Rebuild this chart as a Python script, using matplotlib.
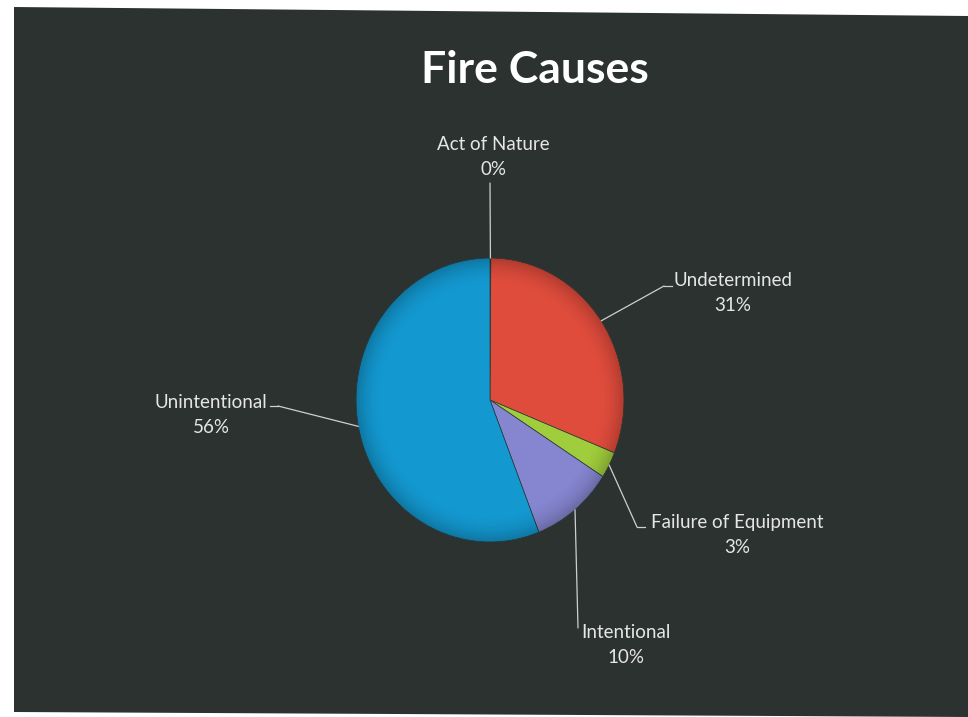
import numpy as np
import matplotlib.pyplot as plt
from matplotlib.patches import Polygon, Circle

# dados
causas = ["Act of Nature", "Undetermined", "Failure of Equipment",
          "Intentional", "Unintentional"]
percentuais = [0.1, 31, 3, 10, 56]
rotulos_pct = ["0%", "31%", "3%", "10%", "56%"]
cores = ["#3a3f3c", "#e04c3c", "#a0cd3c", "#8585d0", "#1398d0"]

W, H = 968, 717
FUNDO = "#2c3230"
TXT = "#e6e6e6"

# posicao do texto (pixels, y de cima p/ baixo) e cotovelo da linha guia
pos_txt = [(493, 157), (733, 293), (737, 535), (626, 645), (211, 415)]
cotovelo = [(490, 183, 490), (664, 286, 672), (637, 527, 645),
            (578, 628, 578), (278, 406, 270)]

fig = plt.figure(figsize=(W / 100, H / 100), dpi=100, facecolor="white")

# fundo escuro do slide escaneado (levemente torto)
fundo = Polygon([(14 / W, 1 - 7 / H), (1, 1 - 16 / H), (1, 0), (14 / W, 1 - 712 / H)],
                closed=True, transform=fig.transFigure, facecolor=FUNDO,
                edgecolor="none", zorder=-5)
fig.patches.append(fundo)

# eixo da pizza: centro (490,400), raios 134 x 142 px
cx, cy, rx, ry = 490, 400, 134, 142
ax = fig.add_axes([(cx - rx) / W, 1 - (cy + ry) / H, 2 * rx / W, 2 * ry / H])
ax.set_zorder(2)
wedges, _ = ax.pie(percentuais, colors=cores, startangle=90, counterclock=False,
                   radius=1, wedgeprops=dict(linewidth=0.5, edgecolor="#2a3a36"))
ax.set_aspect("auto")
ax.set_xlim(-1, 1)
ax.set_ylim(-1, 1)
ax.patch.set_alpha(0)

# sombreado leve de borda (efeito bisel do Excel)
g = np.linspace(-1, 1, 300)
xx, yy = np.meshgrid(g, g)
rr = np.sqrt(xx ** 2 + yy ** 2)
sombra = np.zeros((300, 300, 4))
sombra[..., 3] = np.clip((rr - 0.8) / 0.2, 0, 1) ** 2 * 0.22
clip = Circle((0, 0), 1, transform=ax.transData, facecolor="none", edgecolor="none")
ax.add_patch(clip)
im = ax.imshow(sombra, extent=(-1, 1, -1, 1), origin="lower", zorder=3,
               aspect="auto", interpolation="bilinear")
im.set_clip_path(clip)
ax.set_xlim(-1, 1)
ax.set_ylim(-1, 1)

for w, nome, pct, (tx, ty), (ex, ey, hx) in zip(wedges, causas, rotulos_pct,
                                                 pos_txt, cotovelo):
    ang = np.deg2rad((w.theta1 + w.theta2) / 2)
    x0, y0 = np.cos(ang), np.sin(ang)
    # linha do bordo da fatia ate o cotovelo
    ax.annotate("", xy=(x0, y0), xytext=(ex, H - ey), textcoords="figure pixels",
                annotation_clip=False,
                arrowprops=dict(arrowstyle="-", color="#cfcfcf", lw=0.9,
                                shrinkA=0, shrinkB=0))
    if hx != ex:
        fig.add_artist(plt.Line2D([ex / W, hx / W], [1 - ey / H, 1 - ey / H],
                                  color="#cfcfcf", lw=0.9))
    fig.text(tx / W, 1 - ty / H, f"{nome}\n{pct}", ha="center", va="center",
             color=TXT, fontsize=13.5, family="Lato", linespacing=1.55)

fig.text(535 / W, 1 - 70 / H, "Fire Causes", ha="center", va="center",
         color="white", fontsize=32, fontweight="bold", family="Lato")

fig.savefig("out.png", dpi=100, facecolor=fig.get_facecolor())
